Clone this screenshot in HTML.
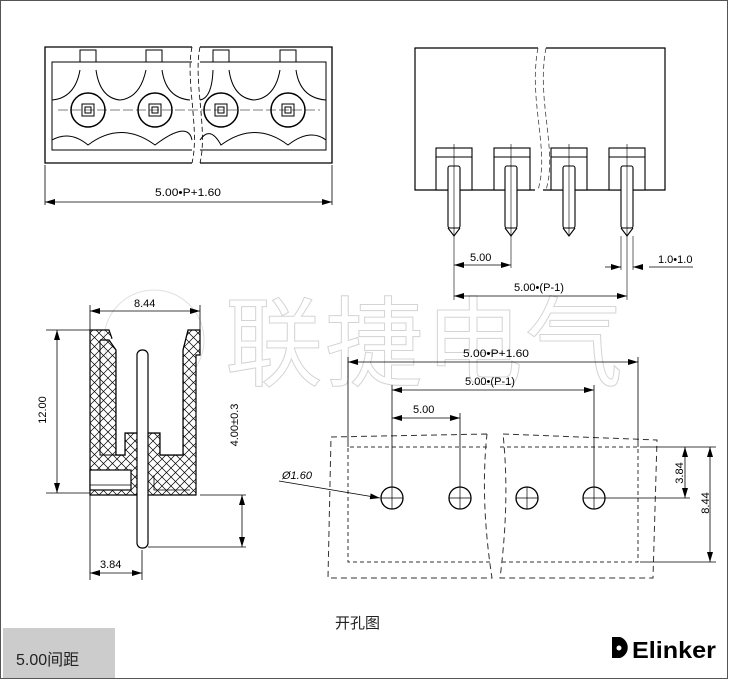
<!DOCTYPE html>
<html><head><meta charset="utf-8"><style>
body{margin:0;background:#fff}
svg{display:block}
.d{font-family:"Liberation Sans Narrow","Liberation Sans",sans-serif;font-size:11px;fill:#000}
</style></head><body>
<svg width="730" height="680" viewBox="0 0 730 680" xmlns="http://www.w3.org/2000/svg">
<defs>
<marker id="a" viewBox="0 0 10 6" refX="10" refY="3" markerWidth="10" markerHeight="6" orient="auto-start-reverse" markerUnits="userSpaceOnUse"><path d="M0,0L10,3L0,6z" fill="#000"/></marker>
<pattern id="h" width="9" height="9" patternUnits="userSpaceOnUse"><path d="M0,0L9,9M9,0L0,9" stroke="#000" stroke-width="0.7"/></pattern>
</defs>
<rect x="0.5" y="0.5" width="727" height="678" fill="none" stroke="#555" stroke-width="1"/>

<!-- watermark -->
<text x="225" y="378" font-family="'Noto Sans CJK SC',sans-serif" font-size="98" fill="none" stroke="#d4d4d4" stroke-width="1" letter-spacing="2">联捷电气</text>
<circle cx="154" cy="340" r="50" fill="none" stroke="#e0e0e0"/>

<g fill="none" stroke="#000" stroke-width="1.3">
<!-- top-left view -->
<path d="M192,47H45V163H192M200,47H332V163H200"/>
<path d="M192,62H52V150H192M200,62H326V150H200" stroke-width="1"/>
<path d="M192,47C185,80 200,130 192,163M200,47C193,80 208,130 200,163" stroke-dasharray="5,3" stroke-width="0.8"/>
<g stroke-width="1">
<rect x="80" y="50" width="16" height="12"/><rect x="146" y="50" width="16" height="12"/><rect x="213" y="50" width="16" height="12"/><rect x="280" y="50" width="16" height="12"/>
<path d="M52,140Q70,130 88,145Q121,120 155,145Q188,120 192,140M200,140Q210,125 221,145Q255,120 288,145Q310,128 326,140"/>
<path d="M52,100Q75,98 80,70M96,70Q100,98 120,100Q140,98 146,70M162,70Q166,98 190,100M200,100Q212,98 213,70M229,70Q233,98 254,100Q275,98 280,70M296,70Q300,98 326,100"/>
</g>
<g stroke-width="1.5"><circle cx="88" cy="110" r="17"/><circle cx="155" cy="110" r="17"/><circle cx="221" cy="110" r="17"/><circle cx="288" cy="110" r="17"/></g>
<g stroke-width="1"><rect x="82" y="104" width="12" height="12"/><rect x="149" y="104" width="12" height="12"/><rect x="215" y="104" width="12" height="12"/><rect x="282" y="104" width="12" height="12"/>
<rect x="85" y="107" width="6" height="6"/><rect x="152" y="107" width="6" height="6"/><rect x="218" y="107" width="6" height="6"/><rect x="285" y="107" width="6" height="6"/></g>
<path d="M58,110H320" stroke-width="0.6" stroke-dasharray="10,3"/>
<path d="M45,165V205M332,165V205" stroke-width="0.8"/>
<path d="M45,202H332" stroke-width="0.8" marker-start="url(#a)" marker-end="url(#a)"/>

<!-- top-right view -->
<path d="M538,48H415V190H535M546,48H665V190H543" stroke-width="1.2"/>
<path d="M538,48C528,100 550,150 538,190M546,48C536,100 558,150 546,190" stroke-dasharray="5,3" stroke-width="0.8" stroke="#444"/>
<g stroke-width="1.1">
<rect x="436" y="148" width="36" height="42" fill="#fff"/><rect x="494" y="148" width="36" height="42" fill="#fff"/><rect x="551" y="148" width="36" height="42" fill="#fff"/><rect x="609" y="148" width="36" height="42" fill="#fff"/>
<path d="M436,157H472M494,157H530M551,157H587M609,157H645"/>
<rect x="448" y="166" width="12" height="62" rx="2" fill="#fff"/><rect x="505" y="166" width="12" height="62" rx="2" fill="#fff"/><rect x="563" y="166" width="12" height="62" rx="2" fill="#fff"/><rect x="621" y="166" width="12" height="62" rx="2" fill="#fff"/>
<path d="M448,228L454,236L460,228M505,228L511,236L517,228M563,228L569,236L575,228M621,228L627,236L633,228"/>
</g>
<path d="M454,144V300M511,144V268M569,144V236M627,144V300M621,236V270M633,236V270" stroke-width="0.6"/>
<path d="M454,265H511" stroke-width="0.8" marker-start="url(#a)" marker-end="url(#a)"/>
<path d="M605,267H621M649,267H693" stroke-width="0.8"/>
<path d="M611,267H621" stroke-width="0.8" marker-end="url(#a)"/><path d="M643,267H633" stroke-width="0.8" marker-end="url(#a)"/>
<path d="M454,296H627" stroke-width="0.8" marker-start="url(#a)" marker-end="url(#a)"/>

<!-- side view -->
<g stroke-width="1.2">
<path d="M90,330H109L116,350V455H125V433H160V455H183V350L188,330H200V355H196V495H90Z" fill="url(#h)"/>
<path d="M100,340H109L116,350V455H125V433H160V455H183V350L188,330" fill="#fff"/>
<path d="M100,340V455H116" stroke-width="1"/>
<rect x="90" y="470" width="41" height="20" fill="#fff"/>
<path d="M90,485H131M154,475V490H190" stroke-width="0.8"/>
<rect x="137" y="350" width="11" height="198" rx="5" fill="#fff"/>
</g>
<path d="M90,305V330M200,305V330M46,330H90M46,493H90M142,550V580M90,495V580M200,495H246M148,547H246" stroke-width="0.8"/>
<path d="M90,311H200" stroke-width="0.8" marker-start="url(#a)" marker-end="url(#a)"/>
<path d="M57,330V493" stroke-width="0.8" marker-start="url(#a)" marker-end="url(#a)"/>
<path d="M90,573H142" stroke-width="0.8" marker-start="url(#a)" marker-end="url(#a)"/>
<path d="M242,495V547" stroke-width="0.8" marker-start="url(#a)" marker-end="url(#a)"/>

<!-- hole pattern -->
<path d="M487,434L331,437L328,578H492Q480,500 487,434" stroke-dasharray="6,4" stroke-width="1" stroke="#333"/>
<path d="M503,434L657,440L653,578H500Q510,500 503,434" stroke-dasharray="6,4" stroke-width="1" stroke="#333"/>
<path d="M487,447H348V562H492M500,447H638V562H500" stroke-dasharray="4,3" stroke-width="1" stroke="#333"/>
<g stroke-width="1.3"><circle cx="392" cy="498" r="11"/><circle cx="460" cy="498" r="11"/><circle cx="527" cy="498" r="11"/><circle cx="594" cy="498" r="11"/></g>
<path d="M392,487V509M381,498H403M460,487V509M449,498H471M527,487V509M516,498H538M594,487V509M583,498H605" stroke-width="0.7"/>
<path d="M348,357V447M638,357V447M392,385V487M460,413V487M594,385V487M605,498H690M640,447H716M640,562H716" stroke-width="0.8"/>
<path d="M348,362H638" stroke-width="0.8" marker-start="url(#a)" marker-end="url(#a)"/>
<path d="M392,390H594" stroke-width="0.8" marker-start="url(#a)" marker-end="url(#a)"/>
<path d="M392,418H460" stroke-width="0.8" marker-start="url(#a)" marker-end="url(#a)"/>
<path d="M685,447V498" stroke-width="0.8" marker-start="url(#a)" marker-end="url(#a)"/>
<path d="M710,447V562" stroke-width="0.8" marker-start="url(#a)" marker-end="url(#a)"/>
<path d="M279,481L380,498" stroke-width="0.8" marker-end="url(#a)"/>
</g>

<g class="d">
<text x="155" y="196" textLength="66" lengthAdjust="spacingAndGlyphs">5.00•P+1.60</text>
<text x="470" y="261">5.00</text>
<text x="658" y="263">1.0•1.0</text>
<text x="514" y="291" textLength="50" lengthAdjust="spacingAndGlyphs">5.00•(P-1)</text>
<text x="134" y="307">8.44</text>
<text x="100" y="568">3.84</text>
<text x="46" y="410" transform="rotate(-90 46 410)" text-anchor="middle">12.00</text>
<text x="238" y="425" transform="rotate(-90 238 425)" text-anchor="middle">4.00±0.3</text>
<text x="463" y="357" textLength="66" lengthAdjust="spacingAndGlyphs">5.00•P+1.60</text>
<text x="465" y="385" textLength="50" lengthAdjust="spacingAndGlyphs">5.00•(P-1)</text>
<text x="413" y="413">5.00</text>
<text x="282" y="479" font-style="italic">Ø1.60</text>
<text x="683" y="473" transform="rotate(-90 683 473)" text-anchor="middle">3.84</text>
<text x="709" y="503" transform="rotate(-90 709 503)" text-anchor="middle">8.44</text>
</g>

<text x="335" y="628" font-family="'Liberation Sans','Noto Sans CJK SC',sans-serif" font-size="15" fill="#222">开孔图</text>
<rect x="3" y="628" width="112" height="50" fill="#ccc"/>
<text x="16" y="665" font-family="'Liberation Sans','Noto Sans CJK SC',sans-serif" font-size="16" fill="#222">5.00间距</text>
<path d="M612,637H620A11,11 0 0 1 620,658H612Z" fill="#000"/>
<circle cx="619" cy="648" r="2.5" fill="#fff"/>
<text x="632" y="658" font-family="'Liberation Sans Narrow','Liberation Sans',sans-serif" font-weight="bold" font-size="23" fill="#000" textLength="84" lengthAdjust="spacingAndGlyphs">Elinker</text>
</svg>
</body></html>
